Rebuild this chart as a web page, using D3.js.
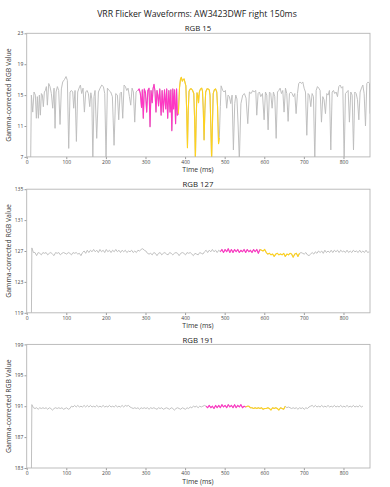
<!DOCTYPE html>
<html><head><meta charset="utf-8">
<script src="https://cdn.jsdelivr.net/npm/d3@7"></script>
<style>body{margin:0;background:#fff}text{font-family:"Open Sans",sans-serif}</style>
</head><body><svg id="c" width="390" height="487"></svg>
<script>
// ---------- DATA ----------
const chartTitle = "VRR Flicker Waveforms: AW3423DWF right 150ms";
const panelTitles = ["RGB 15", "RGB 127", "RGB 191"];
const xTicks = [0, 100, 200, 300, 400, 500, 600, 700, 800];
const yTicks15 = [7, 11, 15, 19, 23];
const yTicks127 = [119, 123, 127, 131, 135];
const yTicks191 = [183, 187, 191, 195, 199];

// RGB 15 series (time ms, value)
const time15 = [10,11.8,15.2,18.5,21.9,24.4,26.9,29.5,32,34.5,37.1,39.6,42.1,44.6,47.2,49.7,52.2,55.6,58.9,62.3,65.7,69.1,71.6,74.1,77.5,80.8,84.2,87.6,90.9,95.2,99.4,102.7,106.1,109.5,112.8,116.2,118.7,122.1,125.5,128.8,132.2,135.6,138.9,142.3,145.7,149.1,152.4,155.8,159.2,162,164.5,167,170,172.6,176.8,181.1,185.3,189.5,193.7,197.1,200.4,203.8,208,212.2,216.4,220.6,224.8,229.1,232.4,235.8,239.2,242.5,245.9,249.3,252.6,256,259.4,262.7,266.1,269.5,272.8,276.2,279.6,
281,284,287,290,292,294.5,297,300,303,306,309,311.5,314,317,319,321.5,324,326.5,329,331,333,336,339.5,342,345,348,351,353.5,356,359,362,364,366.5,369,371,373.5,376,378.5,380.5,
383,386,388.5,390.5,393,395,397.5,400,402,404,406,408,410,413,416,419,422,424,426,428,430,432,434,436,439,442,444,446,448,450,452,455,458,461,463,465,467,469,471,474,477,480,482,484.5,
486.5,489,491,495,498.4,501.8,505,508.5,512,515.3,518.7,522,525.4,528,531,534,537,541,545.6,549.8,554,558.3,562.5,566.7,571,574.3,578.5,581,584.4,587.8,591,595.4,599.6,603,606.3,609.7,613,616.4,619.8,623.1,626.5,630,633.3,636.6,640,643.4,646.7,650,653.5,656.8,660.2,663.6,667,670.3,673.7,677,680.4,683.8,687,690.5,693.9,697.3,700.6,704,707.4,710.7,714,717.5,720.8,724.2,727.6,731,734.3,737.7,741,744.4,747.8,751,754.5,757.9,761.3,764.6,768,771.4,774.7,778,781.5,784.9,788.2,791.6,795,798.3,801.7,805,808.4,811.8,815,818.5,821.9,825.3,828.6,832,835.4,838.8,842,845.5,848.9,852.2,855.6,859,862.3,865.7,867];
const rgb15 = [6.5,15.0,12.8,15.4,15.0,12.0,14.8,12.0,15.0,12.4,15.2,15.0,13.5,15.4,15.6,16.1,13.7,16.5,16.1,15.2,13.3,15.9,10.7,15.4,16.1,15.6,11.2,15.8,16.7,17.0,17.4,16.9,8.1,15.4,15.6,15.4,13.3,15.6,9.0,15.4,15.9,16.3,15.2,15.9,12.8,15.4,15.6,15.2,13.5,15.3,14.5,6.5,14.8,15.6,9.4,15.4,15.9,16.3,16.1,15.2,6.8,15.9,15.6,15.4,14.8,8.5,15.2,15.0,11.8,15.2,15.4,12.0,16.3,16.1,15.6,15.9,14.8,13.7,15.9,15.4,11.5,15.4,15.6,
15.6,15.8,15.2,13.4,15.7,12.0,15.8,15.3,12.8,15.6,15.9,10.9,15.6,14.0,15.8,16.4,15.5,12.8,15.6,15.0,13.6,15.8,12.4,15.6,12.8,15.7,13.2,15.8,12.0,15.6,12.8,15.7,10.4,15.8,13.2,15.7,11.3,15.8,12.4,
12.6,16.0,17.1,17.3,16.8,17.0,17.1,16.6,16.2,13.0,8.2,13.0,15.5,15.8,15.8,15.6,15.2,12.0,6.5,12.0,15.3,15.0,14.0,15.4,15.8,15.9,15.5,13.0,9.2,13.0,15.4,15.8,15.8,15.7,15.0,11.0,6.5,11.0,15.2,15.7,15.8,15.4,13.5,8.7,
9.5,13.5,16.2,15.6,15.4,15.6,13.3,15.0,14.8,13.9,15.0,7.9,13.9,15.0,14.5,11.0,6.5,13.9,15.0,15.2,14.6,11.3,15.4,15.2,15.6,15.4,15.6,12.4,15.2,15.4,14.8,15.2,11.8,15.4,15.0,10.5,15.4,15.2,13.3,15.4,14.8,9.4,15.4,15.6,15.9,15.2,15.6,12.8,15.9,15.2,11.6,15.2,15.4,15.2,14.8,15.2,12.6,15.2,16.5,16.7,16.5,16.7,15.9,15.4,9.8,15.2,15.0,13.5,15.2,14.8,6.5,15.6,16.1,15.9,15.6,11.5,14.8,14.4,12.6,15.2,15.0,15.6,7.9,15.4,15.6,15.2,15.4,14.8,16.1,16.3,15.9,16.1,6.5,15.2,15.4,15.6,11.5,15.4,15.0,7.9,15.4,15.2,14.4,11.8,15.4,15.9,16.3,15.2,11.0,16.5,16.7,16.5,12.6];
const window15 = [281, 383, 486.5]; // magenta start, yellow start, yellow end

// RGB 127 / 191 series: first point at capture start, then regular samples
const captureStart = 12, sampleStart = 13, sampleStep = 4;
const rgb127 = [119,127.4,126.8,126.8,126.4,126.8,126.7,126.5,126.8,126.7,126.8,126.5,126.7,126.8,126.6,126.4,126.8,126.7,126.8,126.5,126.7,126.8,126.7,126.6,126.8,126.7,126.5,126.8,126.7,126.8,126.6,126.7,126.4,126.8,127.0,126.7,127.1,126.8,127.1,126.9,127.2,126.9,127.1,126.8,127.2,126.9,127.1,126.8,127.2,126.9,127.1,126.8,127.1,126.9,127.2,126.9,127.1,126.8,127.1,126.9,127.1,126.8,127.0,126.9,127.1,126.8,127.0,126.8,127.1,127.0,127.2,127.3,127.1,127.0,126.7,126.6,126.7,126.5,126.8,126.7,126.4,126.7,126.8,126.5,126.7,126.8,126.6,126.5,126.8,126.7,126.5,126.7,126.8,126.7,126.4,126.7,126.8,126.7,126.5,126.8,126.7,126.8,126.6,126.4,126.7,126.6,126.5,126.8,126.7,126.6,126.9,127.1,126.8,127.1,126.9,127.2,126.9,127.1,126.8,127.1,
126.9,127.2,126.8,127.2,126.9,127.3,126.8,127.2,126.8,127.2,126.9,127.2,126.8,127.1,126.9,127.2,126.8,127.2,126.9,127.1,126.8,127.2,126.9,127.2,126.7,
127.2,127.1,127.0,127.2,126.8,126.6,126.7,126.5,126.6,126.3,126.6,126.7,126.5,126.6,126.5,126.7,126.3,126.6,126.5,126.7,126.6,126.2,126.6,126.7,126.3,
126.7,126.8,126.7,126.6,126.8,126.5,126.4,126.6,126.8,126.6,126.9,126.7,127.0,126.8,127.0,126.7,127.1,126.8,127.0,126.8,127.1,126.8,127.1,126.9,127.1,126.8,127.1,126.9,127.0,126.8,127.1,126.8,127.0,126.8,127.1,126.9,127.0,126.8,127.1,126.8,127.0,126.8,127.1,126.8,126.9];
const window127 = [489, 589, 689];
const rgb191 = [183,191.2,190.8,190.7,190.8,190.6,190.8,190.7,190.8,190.7,190.8,190.6,190.8,190.7,190.5,190.7,190.8,190.7,190.8,190.7,190.8,190.6,190.7,190.8,190.6,190.7,191.0,190.9,191.1,190.9,191.1,190.9,191.0,190.9,191.1,190.9,191.1,190.9,191.1,190.9,191.0,190.9,191.1,190.9,191.0,190.9,191.1,190.9,191.0,190.9,191.1,190.9,191.0,190.9,191.1,190.9,191.0,190.9,191.1,190.9,191.1,191.0,191.1,190.9,190.8,190.7,190.8,190.7,190.8,190.6,190.8,190.7,190.8,190.7,190.8,190.6,190.8,190.7,190.8,190.7,190.6,190.8,190.7,190.8,190.6,190.7,190.8,190.7,190.6,190.8,190.7,190.5,190.7,190.8,190.7,190.6,190.8,190.7,190.6,190.8,190.7,190.9,190.8,191.0,190.9,191.0,190.8,191.0,190.9,191.0,191.1,
191.0,190.8,191.1,190.8,191.0,190.7,191.1,190.8,191.1,190.8,191.2,190.9,191.1,190.8,191.2,190.9,191.1,190.8,191.2,190.8,191.1,190.9,191.2,190.8,191.0,
190.9,191.0,191.0,190.8,190.8,190.7,190.8,190.7,190.8,190.7,190.8,190.6,190.7,190.7,190.8,190.7,190.5,190.8,190.7,190.8,190.7,190.5,190.8,190.7,190.6,
191.0,190.8,190.9,190.8,190.7,190.8,190.7,190.8,190.6,190.8,190.7,190.8,190.6,190.8,190.7,190.9,191.0,191.1,190.9,191.1,190.9,191.0,190.9,191.1,190.9,191.0,190.9,191.1,190.9,191.0,190.9,191.1,190.9,191.0,190.9,191.1,190.9,191.0,190.9,191.1,190.9,191.0,190.9,191.1,190.9,191.0,190.9,191.1,190.9,191.0];
const window191 = [453, 553, 653];

// ---------- DRAW ----------
const colors = {base: "#bdbdbd", first: "#ff36c4", second: "#ffd21c"};
const regularTimes = n => [captureStart].concat(d3.range(n - 1).map(i => sampleStart + i * sampleStep));

const panels = [
  {title: panelTitles[0], times: time15, values: rgb15, win: window15, ticks: yTicks15, top: 33.3, titleY: 31.2, tickY: 164.3, labelY: 172.4},
  {title: panelTitles[1], times: regularTimes(rgb127.length), values: rgb127, win: window127, ticks: yTicks127, top: 189.2, titleY: 187.2, tickY: 320.2, labelY: 328.4},
  {title: panelTitles[2], times: regularTimes(rgb191.length), values: rgb191, win: window191, ticks: yTicks191, top: 344.4, titleY: 342.6, tickY: 475.6, labelY: 484}
];
const left = 26.7, right = 370, ph = 123.6;
const svg = d3.select("#c");

svg.append("text").attr("x", 197).attr("y", 17).attr("text-anchor", "middle")
  .attr("font-size", 8.7).attr("fill", "#222").text(chartTitle);

const x = d3.scaleLinear().domain([0, 867]).range([left, right]);

panels.forEach((p, k) => {
  const y = d3.scaleLinear().domain([p.ticks[0], p.ticks[p.ticks.length - 1]]).range([p.top + ph, p.top]);
  const g = svg.append("g");
  const clipId = "clip" + k;
  svg.append("clipPath").attr("id", clipId).append("rect")
    .attr("x", left).attr("y", p.top).attr("width", right - left).attr("height", ph);

  // axes
  const xa = g.append("g").attr("transform", `translate(0,${p.top + ph})`)
    .call(d3.axisBottom(x).tickValues(xTicks).tickSize(2.2).tickPadding(1.2));
  const ya = g.append("g").attr("transform", `translate(${left},0)`)
    .call(d3.axisLeft(y).tickValues(p.ticks).tickSize(2.2).tickPadding(1.2));
  [xa, ya].forEach(a => {
    a.select(".domain").remove();
    a.selectAll("line").attr("stroke", "#555").attr("stroke-width", 0.6);
    a.selectAll("text").attr("font-size", 5).attr("fill", "#444").attr("font-family", "Open Sans");
  });

  const pts = p.times.map((t, i) => [t, p.values[i]]);
  const line = d3.line().x(d => x(d[0])).y(d => y(d[1]));
  const plot = g.append("g").attr("clip-path", `url(#${clipId})`);
  plot.append("path").datum(pts).attr("d", line).attr("fill", "none")
    .attr("stroke", colors.base).attr("stroke-width", 0.95).attr("stroke-linejoin", "round");
  plot.append("path").datum(pts.filter(d => d[0] >= p.win[0] && d[0] <= p.win[1])).attr("d", line)
    .attr("fill", "none").attr("stroke", colors.first).attr("stroke-width", 1.1).attr("stroke-linejoin", "round");
  plot.append("path").datum(pts.filter(d => d[0] >= p.win[1] && d[0] <= p.win[2])).attr("d", line)
    .attr("fill", "none").attr("stroke", colors.second).attr("stroke-width", 1.1).attr("stroke-linejoin", "round");

  // frame
  g.append("rect").attr("x", left).attr("y", p.top).attr("width", right - left).attr("height", ph)
    .attr("fill", "none").attr("stroke", "#b5b5b5").attr("stroke-width", 0.9);

  // texts
  g.append("text").attr("x", 198).attr("y", p.titleY).attr("text-anchor", "middle")
    .attr("font-size", 7.8).attr("fill", "#222").text(p.title);
  g.append("text").attr("x", 198).attr("y", p.labelY).attr("text-anchor", "middle")
    .attr("font-size", 6.9).attr("fill", "#333").text("Time (ms)");
  g.append("text").attr("transform", `translate(10.8,${p.top + ph / 2}) rotate(-90)`)
    .attr("text-anchor", "middle").attr("font-size", 6.9).attr("fill", "#333").text("Gamma-corrected RGB Value");
});
</script></body></html>
